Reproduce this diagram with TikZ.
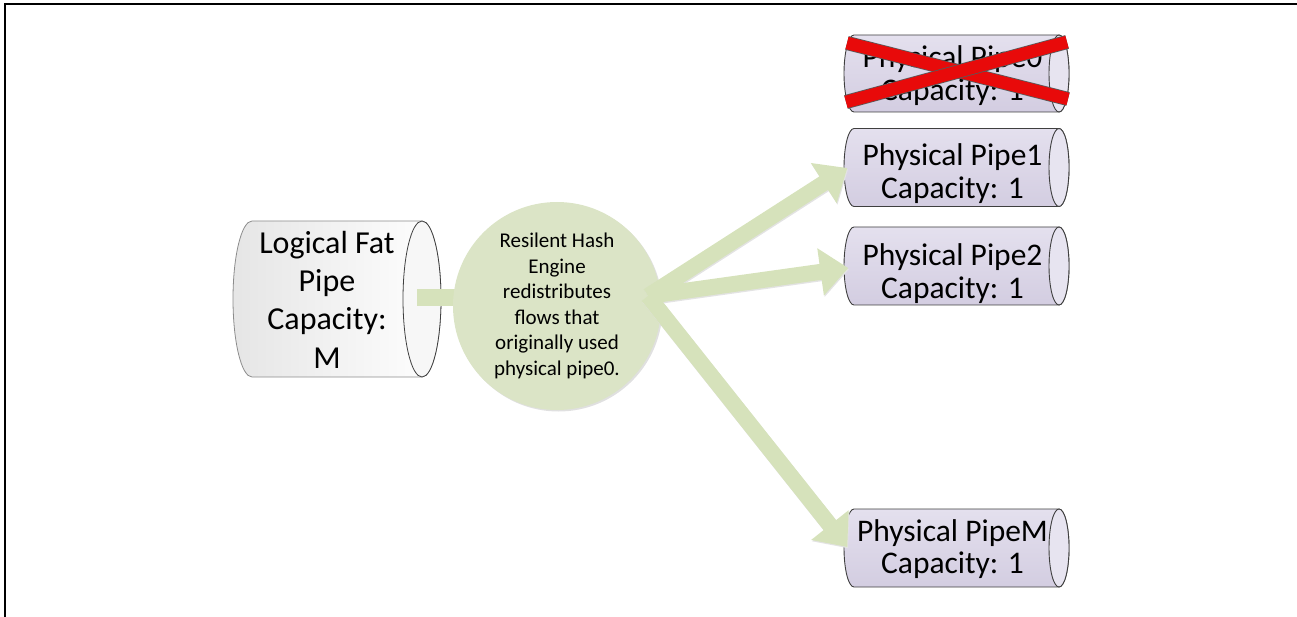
\documentclass[tikz,border=0pt]{standalone}
\usepackage{fontspec}
\setmainfont{Carlito}
\usetikzlibrary{arrows.meta,calc}

\definecolor{lavtop}{HTML}{E4E0EE}
\definecolor{lavbot}{HTML}{D3CDE1}
\definecolor{lavface}{HTML}{E7E4F0}
\definecolor{pipeedge}{HTML}{3F3F3F}
\definecolor{fatedge}{HTML}{8C8C8C}
\definecolor{enginefill}{HTML}{DBE4C6}
\definecolor{flowfill}{HTML}{D6E2BB}
\definecolor{crossred}{HTML}{E80A0A}

% Horizontal cylinder: #1 left body x, #2 right body x, #3 centre y,
% #4 y radius, #5 x radius of the end ellipse, #6 body style, #7 face style
\newcommand\drawpipe[7]{%
  \path[#6] (#1,#3-#4) -- (#2,#3-#4)
    arc[start angle=-90,end angle=90,x radius=#5,y radius=#4]
    -- (#1,#3+#4)
    arc[start angle=90,end angle=270,x radius=#5,y radius=#4] -- cycle;
  \path[#7] (#2,#3) ellipse[x radius=#5,y radius=#4];
}

\tikzset{
  physbody/.style={draw=pipeedge,line width=0.9pt,top color=lavtop,bottom color=lavbot},
  physface/.style={draw=pipeedge,line width=0.9pt,fill=lavface},
  fatbody/.style={draw=fatedge,line width=0.8pt,left color=black!10,right color=white},
  fatface/.style={draw=pipeedge,line width=0.8pt,fill=black!3},
  pipetext/.style={draw=none,inner sep=0pt,align=center,
    font=\fontsize{31.5}{32.5}\selectfont,minimum width=210pt,minimum height=66pt},
  fattext/.style={draw=none,inner sep=0pt,align=center,
    font=\fontsize{32}{38.3}\selectfont,minimum width=207pt,minimum height=156pt},
  engine/.style={circle,fill=enginefill,inner sep=0pt,minimum size=208pt,align=center,
    font=\fontsize{21}{25.5}\selectfont},
  feed/.style={draw=flowfill,line width=17pt},
  flow/.style={draw=flowfill,line width=16pt,-{Triangle[length=28pt,width=46pt]}},
  flowshade/.style={draw=black!11,line width=16pt,-{Triangle[length=28pt,width=46pt]},
    transform canvas={xshift=0.8pt,yshift=-1.3pt}},
  xbar/.style={draw=black!65,line width=0.8pt,double=crossred,double distance=12.5pt},
}

\begin{document}
\begin{tikzpicture}[x=1pt,y=-1pt]
\useasboundingbox (0,0) rectangle (1297,617);

% frame
\draw[line width=2pt] (5,617) -- (5,4) -- (1297,4);

% cylinders
\drawpipe{252}{422}{299}{78}{19}{fatbody}{fatface}
\drawpipe{854}{1059}{73.5}{38.5}{10}{physbody}{physface}
\drawpipe{854}{1059}{167.5}{39}{10}{physbody}{physface}
\drawpipe{854}{1059}{266}{39}{10}{physbody}{physface}
\drawpipe{854}{1059}{548}{39}{10}{physbody}{physface}

\node[fattext] (fat) at (327,299.5) {Logical Fat\\Pipe\\Capacity:\\M};
\node[pipetext] (p0) at (952.5,75.5) {Physical Pipe0\\Capacity: 1};
\node[pipetext] (p1) at (952.5,173.5) {Physical Pipe1\\Capacity: 1};
\node[pipetext] (p2) at (952.5,273.5) {Physical Pipe2\\Capacity: 1};
\node[pipetext] (pM) at (952.5,549) {Physical PipeM\\Capacity: 1};

% failed pipe crossed out
\draw[xbar] (847,43) -- (1068,99);
\draw[xbar] (846,102) -- (1067,42);

% feed from the logical pipe into the hash engine
\coordinate (fatport) at ($(fat.east)+(-13.5,-2)$);
\draw[feed] (fatport) -- (fatport -| {(557,0)});

% hash engine
\fill[black!12] (558.5,307.5) circle[radius=104];
\node[engine] (eng) at (557,306)
  {Resilent Hash\\Engine\\redistributes\\flows that\\originally used\\physical pipe0.};

% redistributed flows, each ending on the mouth of its pipe
\coordinate (fan) at ($(eng.center)+(91,-10)$);
\coordinate (p1in) at ($(p1.west)+(0,-5.5)$);
\coordinate (p2in) at ($(p2.west)+(1,-5.5)$);
\coordinate (pMin) at ($(pM.west)+(0,-2)$);
\foreach \t in {p1in,p2in,pMin} \draw[flowshade] (fan) -- (\t);
\foreach \t in {p1in,p2in,pMin} \draw[flow] (fan) -- (\t);
\end{tikzpicture}
\end{document}
